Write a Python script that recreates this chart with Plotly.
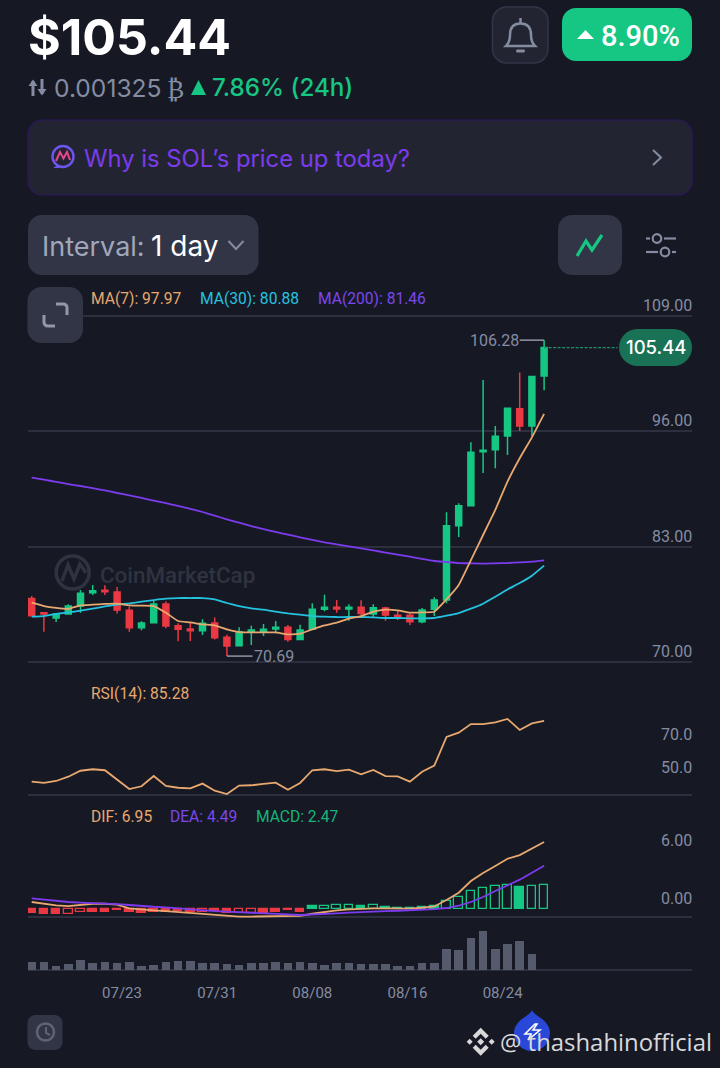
import re
import plotly.graph_objects as go

# ---------- data ----------
open_ = [77.19,75.58,74.98,75.43,76.33,77.83,78.10,77.91,75.84,73.89,74.45,76.56,74.12,73.74,73.55,74.42,72.80,71.86,73.44,73.44,73.74,73.93,72.57,73.70,75.96,76.18,76.00,76.18,75.43,76.11,75.28,75.28,74.57,75.96,77.00,85.38,87.63,93.72,93.94,95.48,98.56,96.61,102.24]
high_ = [77.46,75.62,75.54,76.52,78.13,78.70,78.66,78.47,76.26,74.60,76.93,76.86,74.38,74.45,74.83,75.05,73.10,73.93,74.12,74.30,74.64,74.19,74.23,76.63,77.61,77.00,76.52,76.97,76.52,76.26,75.88,75.50,76.11,77.31,86.88,87.90,94.77,101.79,96.61,98.60,102.62,102.17,106.28]
low_ = [75.24,73.44,74.53,75.43,75.58,77.57,77.57,75.50,73.44,73.59,74.45,73.82,72.35,72.38,73.06,72.57,70.69,71.86,71.94,72.95,73.25,72.31,72.50,73.63,75.73,75.58,74.68,75.28,75.05,74.68,74.75,74.19,74.38,75.20,76.63,84.10,87.63,91.31,91.84,93.34,96.05,95.48,100.63]
close_ = [75.24,75.43,75.43,76.33,77.76,78.06,77.95,75.88,73.89,74.42,76.56,74.08,73.70,73.55,74.38,72.76,71.82,73.44,73.63,73.70,73.93,72.57,73.63,75.96,76.18,76.00,76.18,75.50,76.14,75.32,75.09,74.57,75.88,77.00,85.38,87.63,93.64,93.87,95.44,98.60,96.61,102.17,105.44]
ma7 = [76.70,76.33,76.11,76.00,76.41,76.48,76.56,76.59,76.41,76.37,76.33,75.58,74.64,74.49,74.26,74.15,73.70,73.40,73.36,73.36,73.36,73.14,73.21,73.70,74.15,74.45,74.90,75.20,75.69,75.92,75.84,75.58,75.62,75.69,77.08,78.70,81.50,84.33,87.15,90.34,92.97,95.33,97.97]
ma30 = [75.13,75.20,75.43,75.62,75.80,76.03,76.29,76.48,76.63,76.82,77.00,77.16,77.23,77.23,77.23,77.08,76.67,76.33,76.07,75.92,75.69,75.50,75.35,75.20,75.13,75.09,75.09,75.09,75.05,74.98,74.98,74.94,74.94,74.98,75.24,75.54,76.03,76.59,77.38,78.20,78.92,79.75,80.88]
ma200 = [90.79,90.56,90.32,90.07,89.85,89.60,89.36,89.06,88.80,88.51,88.20,87.92,87.60,87.26,86.92,86.51,86.09,85.72,85.34,85.00,84.67,84.37,84.07,83.77,83.50,83.28,83.05,82.83,82.60,82.34,82.11,81.89,81.63,81.40,81.29,81.17,81.14,81.10,81.14,81.17,81.25,81.32,81.46]
rsi = [48.4,47.6,48.8,51.4,55.0,55.9,55.3,49.4,43.9,45.6,51.8,45.8,44.7,44.3,47.2,42.9,40.9,46.0,46.2,47.0,47.8,43.5,47.6,55.3,55.9,54.8,55.7,52.8,55.5,51.8,51.6,48.4,54.4,58.1,75.5,78.1,83.3,83.3,84.3,86.4,79.7,83.7,85.28]
dif = [0.76,0.55,0.41,0.34,0.45,0.58,0.58,0.48,0.10,-0.03,-0.10,-0.17,-0.27,-0.38,-0.45,-0.58,-0.70,-0.74,-0.74,-0.72,-0.70,-0.72,-0.66,-0.45,-0.24,-0.10,0.00,0.07,0.10,0.10,0.10,0.07,0.17,0.30,0.96,1.72,2.92,3.75,4.47,5.22,5.60,6.30,6.95]
dea = [1.13,1.00,0.86,0.76,0.69,0.65,0.62,0.55,0.45,0.34,0.27,0.21,0.10,0.00,-0.10,-0.17,-0.24,-0.31,-0.34,-0.41,-0.48,-0.52,-0.58,-0.55,-0.48,-0.41,-0.34,-0.27,-0.24,-0.17,-0.14,-0.10,-0.03,0.03,0.14,0.38,0.76,1.27,1.89,2.50,3.06,3.78,4.49]
macd = [-0.41,-0.45,-0.45,-0.48,-0.30,-0.25,-0.25,-0.10,-0.30,-0.33,-0.28,-0.22,-0.20,-0.25,-0.30,-0.20,-0.33,-0.33,-0.40,-0.35,-0.30,-0.10,-0.28,0.35,0.40,0.42,0.47,0.30,0.45,0.27,0.17,0.10,0.27,0.30,0.90,1.30,1.92,2.23,2.37,2.50,2.30,2.44,2.47]
macd_hollow = [3,4,14,17,18,24,25,26,28,34,35,36,37,38,39,41,42]
volume = [24,22,11,17,29,20,22,20,22,11,14,24,25,26,19,21,16,13,19,19,22,19,22,20,14,19,19,17,17,16,10,11,19,21,61,59,95,116,63,78,87,48,0]
date_labels = ["07/23","07/31","08/08","08/16","08/24"]
date_positions = [7.4,15.2,23.0,30.8,38.6]
price_ticks = [70,83,96,109]
rsi_ticks = [50,70]
macd_ticks = [0,6]
days = list(range(len(close_)))

# ---------- styling ----------
BG="#161924"; GRID="#2c2f3e"; GRAY="#858ca2"; GREEN="#16c784"; RED="#ea3943"
ORANGE="#e8a86f"; CYAN="#25c2e0"; PURPLE="#7c3bed"; BTN="#323546"; PANEL="#222531"
W,H=720,1068
X=lambda p:p/W
Y=lambda p:1-p/H
dom=lambda top,bot:[Y(bot),Y(top)]

shapes=[]; ann=[]
def pth(s):
    i=[0]
    def rep(m):
        v=float(m.group(0)); r=(X(v) if i[0]%2==0 else Y(v)); i[0]+=1
        return f"{r:.5f}"
    return re.sub(r"-?\d+\.?\d*",rep,s)
def path(s,fill=None,line=None,width=0,layer="above"):
    d=dict(type="path",xref="paper",yref="paper",path=pth(s),layer=layer,line=dict(width=width,color=line or "rgba(0,0,0,0)"))
    d["fillcolor"]=fill or "rgba(0,0,0,0)"
    shapes.append(d)
def rrect(x0,y0,x1,y1,r,fill,line=None,width=0,layer="above"):
    c=r*0.45
    path(f"M{x0+r},{y0} L{x1-r},{y0} C{x1-c},{y0} {x1},{y0+c} {x1},{y0+r} L{x1},{y1-r} C{x1},{y1-c} {x1-c},{y1} {x1-r},{y1} "
         f"L{x0+r},{y1} C{x0+c},{y1} {x0},{y1-c} {x0},{y1-r} L{x0},{y0+r} C{x0},{y0+c} {x0+c},{y0} {x0+r},{y0} Z",fill,line,width,layer)
def circ(cx,cy,r,fill=None,line=None,width=0,layer="above"):
    shapes.append(dict(type="circle",xref="paper",yref="paper",x0=X(cx-r),x1=X(cx+r),y0=Y(cy+r),y1=Y(cy-r),layer=layer,
        fillcolor=fill or "rgba(0,0,0,0)",line=dict(width=width,color=line or "rgba(0,0,0,0)")))
def txt(x,y,s,size,color,anchor="left",font="Roboto",weight=400):
    ann.append(dict(xref="paper",yref="paper",x=X(x),y=Y(y),text=s,showarrow=False,xanchor=anchor,yanchor="middle",
        borderpad=0,borderwidth=0,font=dict(size=size,color=color,family=font,weight=weight)))
def axis_label(yaxis,val,s,shift=1):
    ann.append(dict(xref="paper",yref=yaxis,x=X(692),y=val,text=s,showarrow=False,xanchor="right",yanchor="bottom",yshift=shift,
        borderpad=0,borderwidth=0,font=dict(size=16,color=GRAY,family="Roboto")))

# header
txt(28,37,"$105.44",50,"#ffffff",font="Inter",weight=700)
rrect(492.5,7,548,63,14,"#222531","#323546",1.5)
path("M506,46 C509,43 510,40 510,35 C510,27 514,23.5 520.5,23.5 C527,23.5 531,27 531,35 C531,40 532,43 535,46 Z",None,"#858ca2",2.5)
path("M520.5,23 L520.5,18",None,"#858ca2",2.5)
rrect(516,49.5,525,52.5,1.5,"#858ca2")
rrect(562,8,692,61,14,GREEN)
path("M577,39 L585.5,30 L594,39 Z","#ffffff")
txt(601,36,"8.90%",29,"#ffffff",font="Roboto",weight=500)
path("M33,96 L33,81",None,GRAY,3)
path("M28.5,86 L33,79.5 L37.5,86 Z",GRAY)
path("M42,79 L42,94",None,GRAY,3)
path("M37.5,89 L42,95.5 L46.5,89 Z",GRAY)
txt(54,88,"0.001325",24.6,GRAY,font="Inter")
txt(167,89,"₿",25,GRAY,font="DejaVu Sans")
path("M191,95 L198.5,80 L206,95 Z",GREEN)
txt(212,88,"7.86% (24h)",24.2,GREEN,font="Inter",weight=500)

# question panel
rrect(28,120,692,195,14,PANEL,"#2d1760",1.2)
circ(63,156.5,10.5,None,"#6d55f0",2.4)
path("M56,161 L60,152 L63.5,158.5 L67,152 L70,160",None,"#e9468e",2)
path("M53,168 L58,165 L60,168 Z","#6d55f0")
txt(84,159,"Why is SOL’s price up today?",23.8,PURPLE,font="Inter")
path("M653,150 L661,157.5 L653,165",None,"#858ca2",2)

# interval + toggles
rrect(28,215,258.5,275,14,BTN)
txt(42,246,"Interval:",27,"#a1a7bb",font="Inter")
txt(151,246,"1 day",28,"#ffffff",font="Inter")
path("M228.5,241 L236,249 L243.5,241",None,"#858ca2",2)
rrect(558,215,622,275,14,BTN)
path("M577,256 L586,241 L592,250 L602,235",None,GREEN,3.2)
circ(657,238.5,4.3,None,"#858ca2",2.2); circ(665,252,4.3,None,"#858ca2",2.2)
path("M664,238.5 L676,238.5",None,"#858ca2",2.2); path("M646,238.5 L650,238.5",None,"#858ca2",2.2)
path("M646,252 L658,252",None,"#858ca2",2.2); path("M672,252 L676,252",None,"#858ca2",2.2)

# expand button
rrect(27.5,287,83,343,14,BTN)
path("M56,304 L63,304 Q67,304 67,308 L67,315",None,"#9297ab",3)
path("M44,315 L44,322 Q44,326 48,326 L55,326",None,"#9297ab",3)

# watermark
WM="#2f3340"
circ(72.7,572.5,16.5,None,WM,3.5,"below")
path("M62,581 L68,565 L74,579 L80,564 L86,573",None,WM,3.5,"below")
txt(100,575,"CoinMarketCap",22.4,WM,font="Roboto",weight=500)

# legends
LS=15.6
txt(91,299,"MA(7): 97.97",LS,ORANGE); txt(200,299,"MA(30): 80.88",LS,CYAN); txt(318,299,"MA(200): 81.46",LS,"#7c47ee")
txt(91,694,"RSI(14): 85.28",LS,ORANGE)
txt(91,817,"DIF: 6.95",LS,ORANGE); txt(170,817,"DEA: 4.49",LS,"#7c47ee"); txt(256,817,"MACD: 2.47",LS,"#15b57a")

for t in price_ticks: axis_label("y",t,f"{t:.2f}")
for t in rsi_ticks: axis_label("y2",t,f"{t:.1f}",2)
for t in macd_ticks: axis_label("y3",t,f"{t:.2f}")

# high / low / last markers
HL="#a4a8b8"
shapes.append(dict(type="line",xref="x",yref="y",x0=days[42]-2,x1=days[42],y0=high_[42],y1=high_[42],line=dict(color=HL,width=1.3)))
ann.append(dict(xref="x",yref="y",x=days[42]-2,y=high_[42],text=f"{high_[42]:.2f}",showarrow=False,xanchor="right",yanchor="middle",xshift=-1,
    borderpad=0,borderwidth=0,font=dict(size=16,color=GRAY,family="Roboto")))
shapes.append(dict(type="line",xref="x",yref="y",x0=days[16],x1=days[16]+2.1,y0=low_[16],y1=low_[16],line=dict(color=HL,width=1.3)))
ann.append(dict(xref="x",yref="y",x=days[16]+2.1,y=low_[16],text=f"{low_[16]:.2f}",showarrow=False,xanchor="left",yanchor="middle",xshift=1,
    borderpad=0,borderwidth=0,font=dict(size=16,color=GRAY,family="Roboto")))
shapes.append(dict(type="line",xref="x",yref="y",x0=days[42],x1=48,y0=close_[42],y1=close_[42],line=dict(color="#1f8f68",width=1.3,dash="3px,1.5px")))
rrect(619,329,692,366,18.5,"#1a7256")
ann.append(dict(xref="paper",yref="paper",x=X(655.5),y=Y(347.5),text=f"{close_[42]:.2f}",showarrow=False,xanchor="center",yanchor="middle",
    borderpad=0,borderwidth=0,font=dict(size=18.5,color="#ffffff",family="Inter",weight=500)))

# footer
rrect(27.5,1015,62.5,1050,8,BTN)
circ(45.5,1032,8.5,None,"#5f6376",2.5)
path("M46,1027 L46,1033 L50,1035",None,"#5f6376",2)
path("M532,1010 C534,1016 550,1020 550,1033 C550,1043 542,1051 532,1051 C522,1051 514,1043 514,1033 C514,1020 530,1016 532,1010 Z","#2a48d8")
path("M535,1024 L525,1034 L531,1034 L528,1040 L540,1030 L533,1030 L537,1024 Z",None,"#ffffff",1.6)
bx,by=480.7,1041.7
for s in [f"M{bx},{by-14} L{bx+8},{by-6} L{bx+5},{by-3} L{bx},{by-8} L{bx-5},{by-3} L{bx-8},{by-6} Z",
          f"M{bx},{by+14} L{bx+8},{by+6} L{bx+5},{by+3} L{bx},{by+8} L{bx-5},{by+3} L{bx-8},{by+6} Z",
          f"M{bx},{by-3.5} L{bx+3.5},{by} L{bx},{by+3.5} L{bx-3.5},{by} Z",
          f"M{bx-11},{by-3} L{bx-8},{by} L{bx-11},{by+3} L{bx-14},{by} Z",
          f"M{bx+11},{by-3} L{bx+14},{by} L{bx+11},{by+3} L{bx+8},{by} Z"]:
    path(s,"#d8d8d8")
txt(500,1041,"@ thashahinofficial",23.9,"#d9d9dc",font="Open Sans")

# ---------- traces ----------
fig=go.Figure()
fig.add_trace(go.Candlestick(x=days,open=open_,high=high_,low=low_,close=close_,xaxis="x",yaxis="y",
    increasing=dict(line=dict(color=GREEN,width=1.5),fillcolor=GREEN),
    decreasing=dict(line=dict(color=RED,width=1.5),fillcolor=RED),whiskerwidth=0,showlegend=False))
for vals,c in [(ma200,PURPLE),(ma30,CYAN),(ma7,ORANGE)]:
    fig.add_trace(go.Scatter(x=days,y=vals,mode="lines",line=dict(color=c,width=1.8,shape="spline",smoothing=0.4),yaxis="y",showlegend=False))
fig.add_trace(go.Scatter(x=days,y=rsi,mode="lines",line=dict(color=ORANGE,width=1.8),yaxis="y2",showlegend=False))
edge=[GREEN if v>=0 else RED for v in macd]
fill=["rgba(0,0,0,0)" if i in macd_hollow else edge[i] for i in range(len(macd))]
fig.add_trace(go.Bar(x=days,y=macd,width=0.72,marker=dict(color=fill,line=dict(color=edge,width=1.3)),yaxis="y3",showlegend=False))
fig.add_trace(go.Scatter(x=days,y=dif,mode="lines",line=dict(color=ORANGE,width=1.8),yaxis="y3",showlegend=False))
fig.add_trace(go.Scatter(x=days,y=dea,mode="lines",line=dict(color=PURPLE,width=1.8),yaxis="y3",showlegend=False))
fig.add_trace(go.Bar(x=days,y=volume,width=0.72,marker=dict(color="#555a6c",line_width=0),yaxis="y4",showlegend=False))

def yax(top,bot,rng,ticks):
    return dict(domain=dom(top,bot),range=rng,tickmode="array",tickvals=ticks,showticklabels=False,showgrid=True,
        gridcolor=GRID,gridwidth=1.5,zeroline=False,showline=False,ticks="",anchor="x",fixedrange=True)
X_LO=(28-31.7)/12.2; X_HI=(692-31.7)/12.2
fig.update_layout(
    width=W,height=H,margin=dict(l=0,r=0,t=0,b=0,pad=0),paper_bgcolor=BG,plot_bgcolor="rgba(0,0,0,0)",
    showlegend=False,shapes=shapes,annotations=ann,hovermode=False,bargap=0,
    xaxis=dict(domain=[X(28),X(692)],range=[X_LO,X_HI],anchor="y4",tickmode="array",tickvals=date_positions,ticktext=date_labels,
        showgrid=False,zeroline=False,showline=False,ticks="",ticklabelstandoff=7,
        tickfont=dict(size=15,color=GRAY,family="Roboto"),rangeslider=dict(visible=False),fixedrange=True),
    yaxis=yax(300,690,[66.87,110.80],price_ticks),
    yaxis2=yax(700,800,[37.27,97.88],[40.3]),
    yaxis3=yax(830,925,[-1.61,8.18],[-0.76]),
    yaxis4=yax(925,975,[-15.9,134],[0]),
)
fig.write_html("out.html",post_script="document.body.style.margin='0';document.documentElement.style.background='%s';document.body.style.overflow='hidden';"%BG,config=dict(displayModeBar=False))
